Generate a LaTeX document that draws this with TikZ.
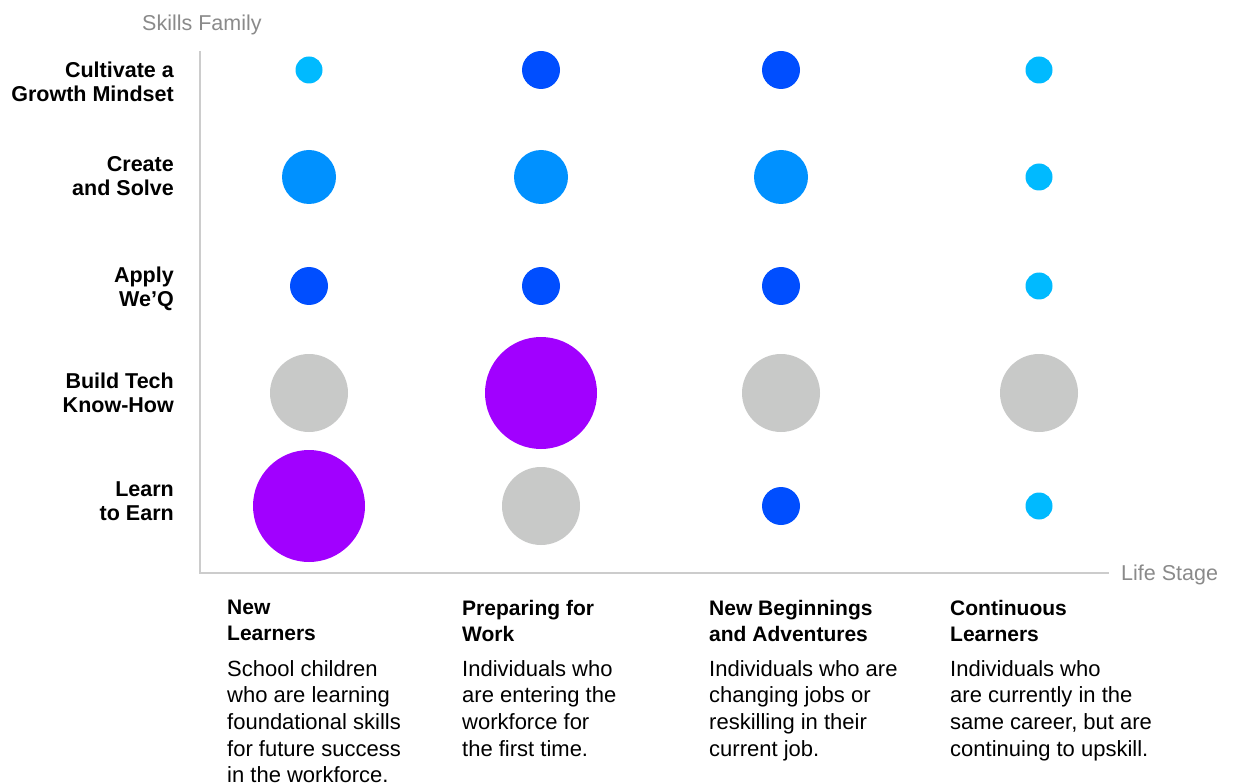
\documentclass[tikz,border=0pt]{standalone}
\usepackage{fontspec}
\setmainfont{Liberation Sans}
\definecolor{cyanC}{HTML}{00BAFF}
\definecolor{midC}{HTML}{0091FF}
\definecolor{darkC}{HTML}{004EFF}
\definecolor{purpC}{HTML}{A100FF}
\definecolor{grayC}{HTML}{C8C9C8}
\definecolor{axisC}{HTML}{CCCCCC}
\definecolor{titleC}{HTML}{8A8A8A}
\begin{document}
\begin{tikzpicture}[x=1pt,y=-1pt,
  dot/.style={circle,inner sep=0pt,draw=none},
  sdot/.style={dot,fill=cyanC,minimum size=27pt},
  ddot/.style={dot,fill=darkC,minimum size=38pt},
  mdot/.style={dot,fill=midC,minimum size=54pt},
  gdot/.style={dot,fill=grayC,minimum size=78pt},
  pdot/.style={dot,fill=purpC,minimum size=112pt},
  rowlab/.style={font=\bfseries\fontsize{21.5}{24}\selectfont,align=right,inner sep=0pt,anchor=north east},
  colhead/.style={font=\bfseries\fontsize{21}{26}\selectfont,align=left,inner sep=0pt,anchor=north west},
  colbody/.style={font=\fontsize{22}{26.7}\selectfont,align=left,inner sep=0pt,anchor=north west},
  axtitle/.style={font=\fontsize{21.5}{24}\selectfont,text=titleC,inner sep=0pt,anchor=base west},
  axis/.style={draw=axisC,line width=2.5pt}]
\useasboundingbox (0,0) rectangle (1233,783);
\clip (0,0) rectangle (1233,783);
% axes
\coordinate (ytop) at (200,51);
\coordinate (origin) at (200,573);
\coordinate (xend) at (1109,573);
\draw[axis] (ytop) -- (origin) -- (xend);
\node[axtitle] (skills) at (142,31) {Skills Family};
\node[axtitle] (life) at (1121,580) {Life Stage};
% row labels
\node[rowlab] (l1) at (174,61.5) {Cultivate a\\Growth Mindset};
\node[rowlab] (l2) at (174,156.5) {Create\\and Solve};
\node[rowlab] (l3) at (174,266.5) {Apply\\We’Q};
\node[rowlab] (l4) at (174,372.5) {Build Tech\\Know-How};
\node[rowlab] (l5) at (174,481.5) {Learn\\to Earn};
% row 1
\node[sdot] (c11) at (309,70) {};
\node[ddot] (c12) at (541,70) {};
\node[ddot] (c13) at (781,70) {};
\node[sdot] (c14) at (1039,70) {};
% row 2
\node[mdot] (c21) at (309,177) {};
\node[mdot] (c22) at (541,177) {};
\node[mdot] (c23) at (781,177) {};
\node[sdot] (c24) at (1039,177) {};
% row 3
\node[ddot] (c31) at (309,286) {};
\node[ddot] (c32) at (541,286) {};
\node[ddot] (c33) at (781,286) {};
\node[sdot] (c34) at (1039,286) {};
% row 4
\node[gdot] (c41) at (309,393) {};
\node[pdot] (c42) at (541,393) {};
\node[gdot] (c43) at (781,393) {};
\node[gdot] (c44) at (1039,393) {};
% row 5
\node[pdot] (c51) at (309,506) {};
\node[gdot] (c52) at (541,506) {};
\node[ddot] (c53) at (781,506) {};
\node[sdot] (c54) at (1039,506) {};
% column headers
\node[colhead] (h1) at (227,600) {New\\Learners};
\node[colhead] (h2) at (462,600) {Preparing for\\Work};
\node[colhead] (h3) at (709,600) {New Beginnings\\and Adventures};
\node[colhead] (h4) at (950,600) {Continuous\\Learners};
% column bodies
\node[colbody] (b1) at (227,660) {School children\\who are learning\\foundational skills\\for future success\\in the workforce.};
\node[colbody] (b2) at (462,660) {Individuals who\\are entering the\\workforce for\\the first time.};
\node[colbody] (b3) at (709,660) {Individuals who are\\changing jobs or\\reskilling in their\\current job.};
\node[colbody] (b4) at (950,660) {Individuals who\\are currently in the\\same career, but are\\continuing to upskill.};
\end{tikzpicture}
\end{document}
